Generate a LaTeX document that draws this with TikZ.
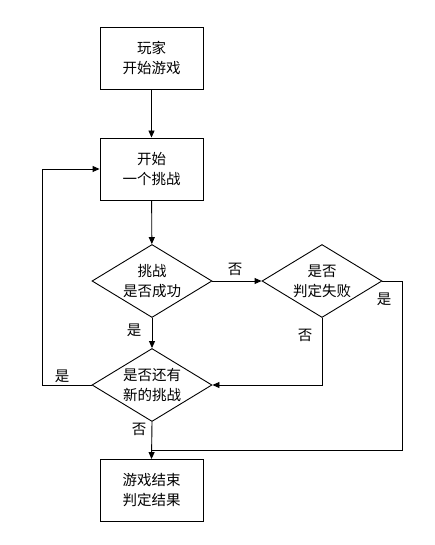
\documentclass[tikz,border=0pt]{standalone}
\usepackage{fontspec}
\newfontfamily\cjk{Noto Sans CJK SC}
\usetikzlibrary{shapes.geometric,arrows.meta}
\begin{document}
\begin{tikzpicture}[x=1pt,y=-1pt,
  every node/.style={font=\cjk\fontsize{14.5}{20}\selectfont},
  box/.style={draw,line width=0.9pt,minimum width=103pt,minimum height=62pt,inner sep=0pt,align=center},
  dia/.style={draw,diamond,line width=0.9pt,minimum width=120pt,minimum height=73pt,inner sep=0pt},
  txt/.style={align=center,inner sep=0pt},
  lbl/.style={inner sep=0pt},
  conn/.style={line width=0.9pt,-{Triangle[length=7pt,width=6pt]}},
  plain/.style={line width=0.9pt}]
\useasboundingbox (0,0) rectangle (435,545);
\node[box] (b1) at (151.5,58) {玩家\\开始游戏};
\node[box] (b2) at (151.5,169) {开始\\一个挑战};
\node[dia] (d1) at (152,281) {};
\node[txt] at (d1) {挑战\\是否成功};
\node[dia] (d2) at (322,281) {};
\node[txt] at (d2) {是否\\判定失败};
\node[dia] (d3) at (152,385) {};
\node[txt] at (d3) {是否还有\\新的挑战};
\node[box] (b3) at (151.5,490.5) {游戏结束\\判定结果};
\coordinate (cl) at (42,385);
\coordinate (cl2) at (42,169);
\coordinate (cr) at (402,281);
\coordinate (cr2) at (402,450);
\coordinate (cj) at (152,450);
\coordinate (cm) at (322,385);
\draw[conn] (b1) -- (b2);
\draw[conn] (b2) -- (d1);
\draw[conn] (d1) -- (d2);
\draw[conn] (d1) -- (d3);
\draw[conn] (d2.south) -- (cm) -- (d3.east);
\draw[conn] (d3.west) -- (cl) -- (cl2) -- (b2.west);
\draw[conn] (d3.south) -- (b3.north);
\draw[plain] (d2.east) -- (cr) -- (cr2) -- (cj);
\node[lbl] (l1) at (235,269) {否};
\node[lbl] (l2) at (384,299) {是};
\node[lbl] (l3) at (305,335) {否};
\node[lbl] (l4) at (134,330) {是};
\node[lbl] (l5) at (139,429) {否};
\node[lbl] (l6) at (62,376) {是};
\end{tikzpicture}
\end{document}
